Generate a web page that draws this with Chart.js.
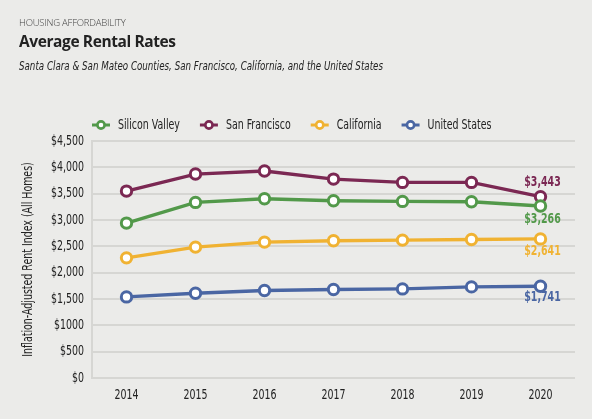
<!DOCTYPE html>
<html>
<head>
<meta charset="utf-8">
<script src="https://cdn.jsdelivr.net/npm/chart.js@4"></script>
<style>
  html, body { margin:0; padding:0; background:#ebebe9; }
  #wrap { position:relative; width:592px; height:419px; overflow:hidden; }
  #c { position:absolute; left:0; top:0; }
  .hdr { position:absolute; left:19px; white-space:nowrap; color:#222; transform-origin:0 50%; }
  #kicker { top:16px; font-family:'Open Sans', sans-serif; font-size:9.5px; font-weight:300; color:#444; letter-spacing:-0.2px; }
  #title { top:30px; font-family:'Open Sans', sans-serif; font-size:15.5px; font-weight:700; letter-spacing:-0.4px; }
  #sub { top:58px; font-family:'DejaVu Sans Condensed',sans-serif; font-style:italic; font-size:13px; color:#222; transform:scaleX(0.745); }
</style>
</head>
<body>
<div id="wrap">
  <canvas id="c" width="592" height="419"></canvas>
  <div class="hdr" id="kicker">HOUSING AFFORDABILITY</div>
  <div class="hdr" id="title">Average Rental Rates</div>
  <div class="hdr" id="sub">Santa Clara &amp; San Mateo Counties, San Francisco, California, and the United States</div>
</div>
<script>
const years = ['2014', '2015', '2016', '2017', '2018', '2019', '2020'];
const seriesNames = ['Silicon Valley', 'San Francisco', 'California', 'United States'];
const siliconValley = [2941, 3334, 3403, 3365, 3353, 3346, 3266];
const sanFrancisco  = [3549, 3872, 3929, 3777, 3714, 3714, 3443];
const california    = [2281, 2485, 2580, 2605, 2618, 2631, 2641];
const unitedStates  = [1540, 1610, 1661, 1680, 1692, 1730, 1741];
const yTickLabels = ['$0', '$500', '$1000', '$1,500', '$2,000', '$2,500', '$3,000', '$3,500', '$4,000', '$4,500'];

const COND = "'DejaVu Sans Condensed',sans-serif";
const SQUEEZE = 0.75;
const colors = ['#52994a', '#7b2853', '#f0b232', '#4a66a3'];
const endDy = [13, -14, 12, 11];
const allSeries = [siliconValley, sanFrancisco, california, unitedStates];

// Condense all canvas text horizontally (emulates a condensed typeface)
const canvas = document.getElementById('c');
const c2d = canvas.getContext('2d');
const origFill = c2d.fillText;
c2d.fillText = function (t, x, y, mw) {
  const w = this.measureText(t).width * SQUEEZE;
  return origFill.call(this, t, x, y, mw !== undefined ? Math.min(mw, w) : w);
};

const datasets = allSeries.map((d, i) => ({
  label: seriesNames[i],
  data: d,
  borderColor: colors[i],
  backgroundColor: '#ffffff',
  borderWidth: 3.4,
  pointRadius: 5.2,
  pointHoverRadius: 5.2,
  pointBorderWidth: 3,
  pointBackgroundColor: '#ffffff',
  pointBorderColor: colors[i],
  tension: 0,
  endLabelDy: endDy[i]
}));

const customLegend = {
  id: 'customLegend',
  afterDraw(chart) {
    const ctx = chart.ctx;
    const area = chart.chartArea;
    let x = area.left;
    const y = area.top - 16;
    ctx.save();
    ctx.font = '14px ' + COND;
    ctx.textBaseline = 'middle';
    chart.data.datasets.forEach(ds => {
      ctx.strokeStyle = ds.borderColor;
      ctx.lineWidth = 3;
      ctx.beginPath();
      ctx.moveTo(x, y); ctx.lineTo(x + 18, y);
      ctx.stroke();
      ctx.beginPath();
      ctx.arc(x + 9, y, 3.6, 0, Math.PI * 2);
      ctx.fillStyle = '#ffffff';
      ctx.fill();
      ctx.lineWidth = 2.6;
      ctx.stroke();
      ctx.fillStyle = '#222';
      ctx.textAlign = 'left';
      ctx.fillText(ds.label, x + 26, y);
      x += 26 + ctx.measureText(ds.label).width * SQUEEZE + 20;
    });
    ctx.restore();
  }
};

const endLabels = {
  id: 'endLabels',
  afterDatasetsDraw(chart) {
    const ctx = chart.ctx;
    ctx.save();
    ctx.font = 'bold 14px ' + COND;
    ctx.textAlign = 'center';
    ctx.textBaseline = 'middle';
    chart.data.datasets.forEach((ds, i) => {
      const meta = chart.getDatasetMeta(i);
      const pt = meta.data[meta.data.length - 1];
      const v = ds.data[ds.data.length - 1];
      ctx.fillStyle = ds.borderColor;
      ctx.fillText('$' + v.toLocaleString('en-US'), pt.x + 2, pt.y + ds.endLabelDy);
    });
    ctx.restore();
  }
};

Chart.defaults.font.family = COND;
Chart.defaults.color = '#222';

new Chart(canvas, {
  type: 'line',
  data: { labels: years, datasets },
  options: {
    responsive: false,
    animation: false,
    devicePixelRatio: 1,
    layout: { padding: { top: 141, right: 17, left: 0, bottom: 0 } },
    plugins: { legend: { display: false }, tooltip: { enabled: false }, title: { display: false } },
    scales: {
      x: {
        type: 'category',
        offset: true,
        grid: { display: false, drawTicks: false },
        border: { display: false },
        ticks: { font: { size: 14 }, color: '#222', padding: 9 },
        afterFit: s => { s.height = 41; }
      },
      y: {
        min: 0, max: 4500,
        afterBuildTicks: s => { s.ticks = yTickLabels.map((_, i) => ({ value: i * 500 })); },
        ticks: {
          font: { size: 14 }, color: '#222', padding: 8,
          callback: (v, i) => yTickLabels[i]
        },
        grid: { color: '#d6d6d3', lineWidth: 2, drawTicks: false },
        border: { display: true, color: '#d6d6d3', width: 2 },
        title: {
          display: true,
          text: 'Inflation-Adjusted Rent Index (All Homes)',
          font: { size: 14 }, color: '#222',
          padding: { top: 20, bottom: 0 }
        },
        afterFit: s => { s.width = 92; }
      }
    }
  },
  plugins: [customLegend, endLabels]
});
</script>
</body>
</html>
